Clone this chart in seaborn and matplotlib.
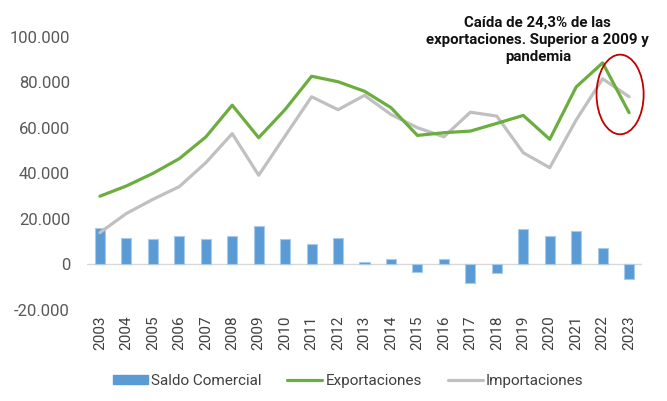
import numpy as np
import pandas as pd
import matplotlib
matplotlib.use("Agg")
import matplotlib.pyplot as plt
from matplotlib.patches import Ellipse, Patch
from matplotlib.lines import Line2D
import seaborn as sns

years = [str(y) for y in range(2003, 2024)]
saldo = [16.2, 11.8, 11.4, 12.3, 11.1, 12.5, 16.9, 11.4, 9.2, 11.8, 1.3,
         2.6, -3.2, 2.2, -8.3, -3.7, 15.8, 12.5, 14.6, 7.1, -6.6]
exportaciones = [30.0, 34.5, 40.0, 46.5, 56.0, 70.0, 55.7, 68.1, 82.7, 80.3, 76.1,
                 68.9, 56.7, 57.9, 58.6, 62.0, 65.5, 55.0, 78.0, 88.6, 66.7]
importaciones = [14.0, 22.4, 28.6, 34.2, 44.7, 57.5, 39.2, 56.5, 73.7, 68.0, 74.3,
                 65.9, 60.1, 56.1, 66.9, 65.2, 49.1, 42.5, 63.5, 81.6, 73.7]
ytick_vals = [-20000, 0, 20000, 40000, 60000, 80000, 100000]
ytick_labels = ["-20.000", "0", "20.000", "40.000", "60.000", "80.000", "100.000"]
series_names = ["Saldo Comercial", "Exportaciones", "Importaciones"]
annotation = "Caída de 24,3% de las\nexportaciones. Superior a 2009 y\npandemia"

df = pd.DataFrame({
    "year": years,
    "pos": np.arange(len(years)),
    "saldo": np.array(saldo) * 1000,
    "exp": np.array(exportaciones) * 1000,
    "imp": np.array(importaciones) * 1000,
})

sns.set_theme(style="white")
plt.rcParams["font.family"] = ["Roboto", "DejaVu Sans"]

fig = plt.figure(figsize=(6.67, 4.01), dpi=100)
ax = fig.add_axes([0.130, 0.227, 0.833, 0.681])

bar_c = "#5B9BD5"
green = "#6BAE3F"
grey = "#C0C0C0"

sns.barplot(data=df, x="year", y="saldo", color=bar_c, width=0.38,
            edgecolor="#A9CBEA", linewidth=0.8, saturation=1, ax=ax, zorder=2)
sns.lineplot(data=df, x="pos", y="imp", color=grey, linewidth=2.3, ax=ax, zorder=3)
sns.lineplot(data=df, x="pos", y="exp", color=green, linewidth=2.3, ax=ax, zorder=4)

ax.axhline(0, color="#D9D9D9", linewidth=1.0, zorder=1)
ax.set_xlim(-0.5, len(years) - 0.5)
ax.set_ylim(-20000, 100000)
ax.set_yticks(ytick_vals)
ax.set_yticklabels(ytick_labels)
ax.set_xticks(np.arange(len(years)))
ax.set_xticklabels(years, rotation=90)
ax.tick_params(axis="y", labelsize=12, colors="#595959", length=0, pad=12)
ax.tick_params(axis="x", labelsize=11, colors="#404040", length=0, pad=4)
ax.set_xlabel("")
ax.set_ylabel("")
for s in ax.spines.values():
    s.set_visible(False)

ell = Ellipse((19.66, 74700), width=1.78, height=35000, fill=False,
              edgecolor="#C00000", linewidth=1.3, zorder=5, clip_on=False)
ax.add_patch(ell)

ax.text(16.55, 98800, annotation, ha="center", va="center", fontsize=10.8,
        fontweight="bold", color="#111111", linespacing=1.3, clip_on=False, zorder=6)

handles = [Patch(facecolor=bar_c, edgecolor=bar_c),
           Line2D([0], [0], color=green, linewidth=2.3),
           Line2D([0], [0], color=grey, linewidth=2.3)]
fig.legend(handles, series_names, loc="center", bbox_to_anchor=(0.522, 0.05),
           ncol=3, frameon=False, fontsize=11, handlelength=2.3,
           handleheight=0.5, handletextpad=0.2, columnspacing=1.7,
           labelcolor="#404040")

fig.savefig("out.png", dpi=100)
